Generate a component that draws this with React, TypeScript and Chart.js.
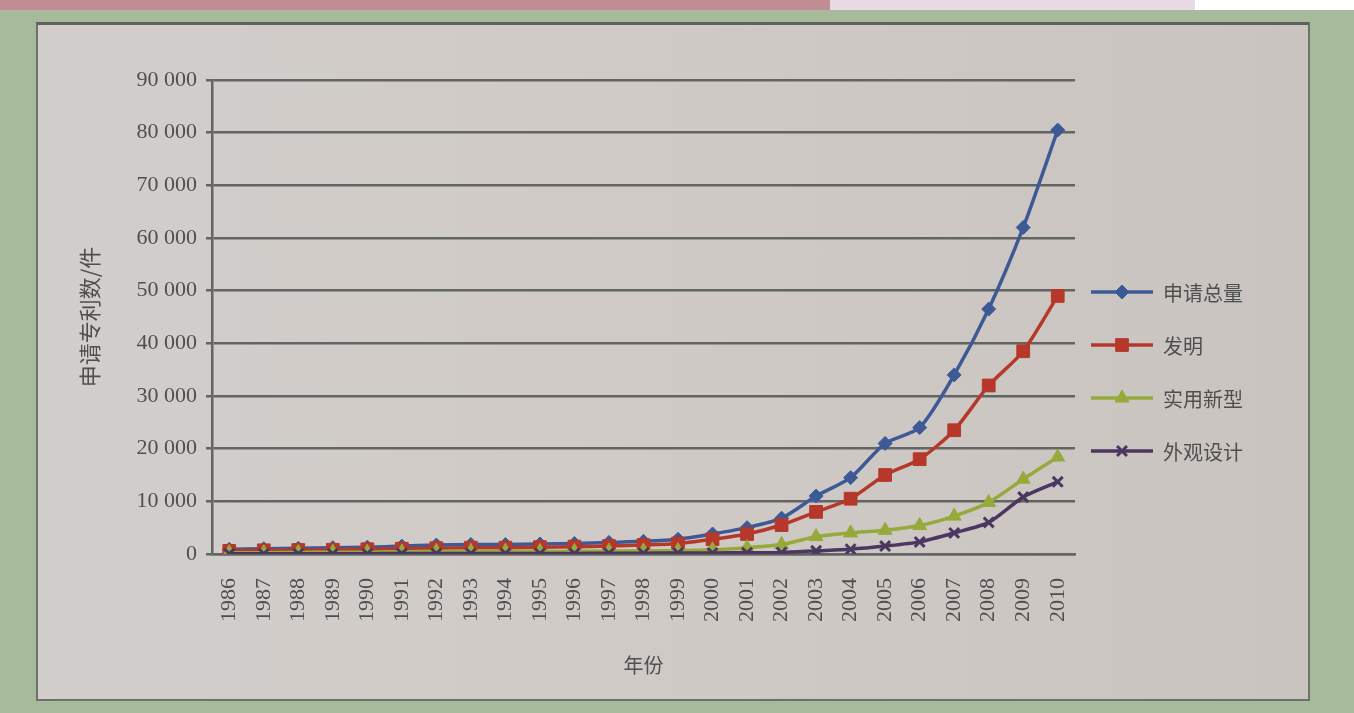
import React, { useEffect, useRef } from 'react';
import { Chart, registerables } from 'chart.js';
import { drawPoint } from 'chart.js/helpers';

Chart.register(...registerables);

const years = [
  '1986', '1987', '1988', '1989', '1990', '1991', '1992', '1993', '1994', '1995',
  '1996', '1997', '1998', '1999', '2000', '2001', '2002', '2003', '2004', '2005',
  '2006', '2007', '2008', '2009', '2010',
];

const totalApps = [
  900, 1000, 1100, 1200, 1300, 1500, 1700, 1800, 1800, 1900,
  2000, 2200, 2400, 2800, 3800, 5000, 6800, 11000, 14500, 21000,
  24000, 34000, 46500, 62000, 80500,
];
const invention = [
  600, 700, 750, 800, 900, 1000, 1100, 1200, 1200, 1300,
  1400, 1500, 1700, 2000, 2800, 3800, 5500, 8000, 10500, 15000,
  18000, 23500, 32000, 38500, 49000,
];
const utilityModel = [
  250, 250, 300, 350, 350, 400, 500, 500, 500, 500,
  500, 550, 600, 650, 800, 1200, 1800, 3300, 4000, 4500,
  5400, 7200, 9800, 14200, 18400,
];
const design = [
  50, 50, 50, 50, 50, 100, 100, 100, 100, 100,
  100, 150, 150, 200, 200, 250, 300, 600, 900, 1500,
  2300, 4000, 6000, 10800, 13700,
];

const seriesNames = ['申请总量', '发明', '实用新型', '外观设计'];
const yMin = 0;
const yMax = 90000;
const yStep = 10000;

const TEXT_COLOR = '#4f4f4f';
const GRID_COLOR = '#636563';
const CJK = '"Noto Sans CJK SC", "Noto Sans", sans-serif';
const SERIF = '"Liberation Serif", "DejaVu Serif", serif';

const lineLegend = {
  id: 'lineLegend',
  afterDraw(chart: any) {
    const ctx = chart.ctx as CanvasRenderingContext2D;
    const x0 = chart.chartArea.right + 16;
    const startY = 292;
    const gap = 53;
    chart.data.datasets.forEach((ds: any, i: number) => {
      const y = startY + i * gap;
      ctx.save();
      ctx.strokeStyle = ds.borderColor;
      ctx.lineWidth = ds.borderWidth;
      ctx.beginPath();
      ctx.moveTo(x0, y);
      ctx.lineTo(x0 + 62, y);
      ctx.stroke();
      ctx.fillStyle = ds.pointBackgroundColor;
      ctx.strokeStyle = ds.pointBorderColor;
      ctx.lineWidth = ds.pointBorderWidth;
      drawPoint(ctx, {
        pointStyle: ds.pointStyle,
        radius: ds.pointRadius,
        rotation: 0,
        borderWidth: ds.pointBorderWidth,
      } as any, x0 + 31, y);
      ctx.fillStyle = TEXT_COLOR;
      ctx.font = `20px ${CJK}`;
      ctx.textBaseline = 'middle';
      ctx.textAlign = 'left';
      ctx.fillText(seriesNames[i], x0 + 72, y + 1);
      ctx.restore();
    });
  },
};

export default function App() {
  const canvasRef = useRef<HTMLCanvasElement | null>(null);

  useEffect(() => {
    if (!canvasRef.current) return;
    const mk = (label: string, data: number[], color: string, style: string, radius: number, order: number, bw = 1) => ({
      label,
      data,
      borderColor: color,
      backgroundColor: color,
      pointBackgroundColor: color,
      pointBorderColor: color,
      pointBorderWidth: bw,
      borderWidth: 3.5,
      pointStyle: style,
      pointRadius: radius,
      tension: 0.25,
      order,
    });
    const chart = new Chart(canvasRef.current, {
      type: 'line',
      data: {
        labels: years,
        datasets: [
          mk(seriesNames[0], totalApps, '#3d5a96', 'rectRot', 7, 4),
          mk(seriesNames[1], invention, '#b5382b', 'rect', 9, 3),
          mk(seriesNames[2], utilityModel, '#96a93b', 'triangle', 8, 2),
          mk(seriesNames[3], design, '#4b3760', 'crossRot', 7, 1, 3),
        ] as any,
      },
      options: {
        animation: false,
        responsive: false,
        maintainAspectRatio: false,
        layout: { padding: { left: 72, top: 80, right: 279, bottom: 32 } },
        plugins: {
          legend: { display: false },
          tooltip: { enabled: false },
        },
        scales: {
          x: {
            offset: true,
            grid: { display: false },
            border: { display: true, color: GRID_COLOR, width: 2.5 },
            ticks: {
              autoSkip: false,
              minRotation: 90,
              maxRotation: 90,
              padding: 16,
              color: TEXT_COLOR,
              font: { family: SERIF, size: 22 },
            },
            title: {
              display: true,
              text: '年份',
              color: TEXT_COLOR,
              font: { family: CJK, size: 20 },
            },
            afterFit: (axis: any) => { axis.height = 127; },
          },
          y: {
            min: yMin,
            max: yMax,
            grid: { color: GRID_COLOR, lineWidth: 2.5, tickLength: 6, drawTicks: true },
            border: { display: true, color: GRID_COLOR, width: 2.5 },
            ticks: {
              stepSize: yStep,
              padding: 9,
              color: TEXT_COLOR,
              font: { family: SERIF, size: 22 },
              callback: (v: any) => (v === 0 ? '0' : `${v / 1000} 000`),
            },
            title: {
              display: true,
              text: '申请专利数/件',
              color: TEXT_COLOR,
              font: { family: CJK, size: 22 },
            },
            afterFit: (axis: any) => { axis.width = 140; },
          },
        },
      },
      plugins: [lineLegend],
    });
    return () => chart.destroy();
  }, []);

  return (
    <div style={{ position: 'fixed', left: 0, top: 0, width: 1354, height: 713, background: '#a7bb9c', overflow: 'hidden' }}>
      <div style={{ position: 'absolute', left: 0, top: 0, width: 1354, height: 10, background: '#ffffff' }} />
      <div style={{ position: 'absolute', left: 0, top: 0, width: 1195, height: 10, background: '#e9d9e2' }} />
      <div style={{ position: 'absolute', left: 0, top: 0, width: 830, height: 10, background: '#c08d94' }} />
      <div style={{
        position: 'absolute', left: 36, top: 22, width: 1270, height: 674,
        background: 'linear-gradient(90deg, #d2cecb 0%, #cfcac6 50%, #cac4c0 100%)',
        borderTop: '3px solid #5d625b', borderLeft: '2px solid #6d716b', borderRight: '2px solid #6d716b', borderBottom: '2px solid #6d716b',
      }} />
      <canvas ref={canvasRef} width={1354} height={713} style={{ position: 'absolute', left: 0, top: 0, width: 1354, height: 713 }} />
    </div>
  );
}
